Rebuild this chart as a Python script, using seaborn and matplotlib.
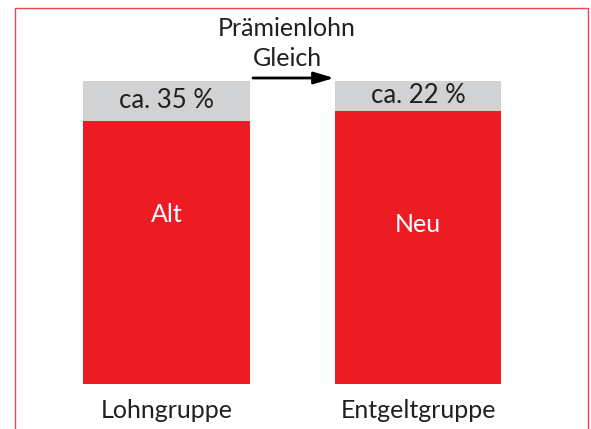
import matplotlib
matplotlib.use("Agg")
import matplotlib.pyplot as plt
import seaborn as sns
import pandas as pd
from matplotlib.patches import Rectangle

categories = ["Lohngruppe", "Entgeltgruppe"]
inner_labels = ["Alt", "Neu"]
base_values = [86.8, 90.1]      # red part
top_values = [13.2, 9.9]        # gray part
top_labels = ["ca. 35 %", "ca. 22 %"]
title_lines = ["Prämienlohn", "Gleich"]

sns.set_theme(style="white")
plt.rcParams["font.family"] = ["Lato", "DejaVu Sans"]

RED = "#ED1C24"
GRAY = "#D1D2D4"
TXT = "#231F20"

df = pd.DataFrame({"cat": categories, "base": base_values,
                   "total": [b + t for b, t in zip(base_values, top_values)]})

fig = plt.figure(figsize=(5.91, 4.29), dpi=100)
ax = fig.add_axes([0, 0, 1, 1])

sns.barplot(data=df, x="cat", y="total", color=GRAY, width=0.665,
            saturation=1, ax=ax, order=categories, linewidth=0, edgecolor="none")
sns.barplot(data=df, x="cat", y="base", color=RED, width=0.665,
            saturation=1, ax=ax, order=categories, linewidth=0, edgecolor="none")

ax.set_xlim(-0.665, 1.689)
ax.set_ylim(-14.85, 126.7)
ax.axis("off")

for i, cat in enumerate(categories):
    b = base_values[i]
    t = top_values[i]
    ax.text(i, b + t / 2 + 0.3, top_labels[i], ha="center", va="center",
            fontsize=18.5, color=TXT)
    ax.text(i, -8.6, cat, ha="center", va="center", fontsize=18, color=TXT)
ax.text(0, 56, inner_labels[0], ha="center", va="center", fontsize=18, color="white")
ax.text(1, 52.5, inner_labels[1], ha="center", va="center", fontsize=18, color="white")

# title and arrow
fig.text(287 / 591, 1 - 29 / 429, title_lines[0], ha="center", va="center",
         fontsize=18, color=TXT)
fig.text(287 / 591, 1 - 59 / 429, title_lines[1], ha="center", va="center",
         fontsize=18, color=TXT)
ax.annotate("", xy=(334 / 591, 1 - 78 / 429), xytext=(253 / 591, 1 - 78 / 429),
            xycoords="figure fraction", textcoords="figure fraction",
            arrowprops=dict(arrowstyle="-|>,head_length=1.0,head_width=0.3",
                            color="black", lw=2.0, shrinkA=0, shrinkB=0))

# frame
frame = Rectangle((15 / 591, -0.1), (588 - 15) / 591, 1.1 - 8 / 429,
                  transform=fig.transFigure, fill=False, edgecolor="#E8474D",
                  lw=1.0, clip_on=False)
fig.patches.append(frame)

fig.savefig("out.png", dpi=100)
